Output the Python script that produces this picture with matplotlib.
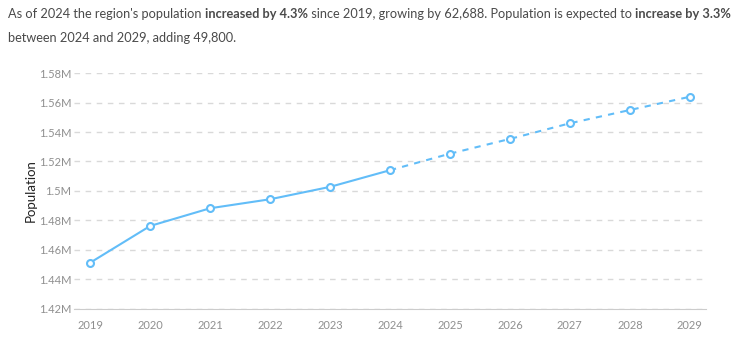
import matplotlib
matplotlib.use("Agg")
import matplotlib.pyplot as plt
from matplotlib.ticker import FuncFormatter

plt.rcParams['font.family'] = ['Lato', 'DejaVu Sans']

years = [2019, 2020, 2021, 2022, 2023, 2024, 2025, 2026, 2027, 2028, 2029]
population = [1451400, 1476300, 1488300, 1494400, 1502800, 1514088,
              1525300, 1535300, 1545900, 1554900, 1563888]
actual_n = 6  # 2019-2024 actual, 2024-2029 projected

headline = [
    ("As of 2024 the region's population ", "normal"),
    ("increased by 4.3%", "bold"),
    (" since 2019, growing by 62,688. Population is expected to ", "normal"),
    ("increase by 3.3%", "bold"),
]
headline2 = "between 2024 and 2029, adding 49,800."

blue = "#62bdf8"
grid_c = "#d9d9d9"
tick_c = "#8f8f8f"
text_c = "#4a4a4a"

fig = plt.figure(figsize=(7.5, 3.57), dpi=100)
ax = fig.add_axes([0.0987, 0.1345, 0.8426, 0.661])

ax.plot(years[:actual_n], population[:actual_n], color=blue, lw=1.5, zorder=3)
ax.plot(years[actual_n - 1:], population[actual_n - 1:], color=blue, lw=1.5,
        ls=(0, (3, 3)), zorder=3)
ax.plot(years, population, ls="none", marker="o", ms=5, mfc="white",
        mec=blue, mew=1.5, zorder=4)

ax.set_xlim(2018.73, 2029.27)
ax.set_ylim(1.42e6, 1.58e6)
ax.set_xticks(years)
ax.set_yticks([1.42e6 + i * 0.02e6 for i in range(9)])
ax.yaxis.set_major_formatter(FuncFormatter(lambda v, p: f"{v / 1e6:g}M"))
ax.tick_params(axis="both", length=0, labelsize=8, colors=tick_c)
ax.tick_params(axis="x", pad=8)
ax.tick_params(axis="y", pad=2)

ax.grid(axis="y", color=grid_c, ls=(0, (4, 4)), lw=1)
for s in ["top", "right", "left"]:
    ax.spines[s].set_visible(False)
ax.spines["bottom"].set_color("#cccccc")
ax.set_ylabel("Population", fontsize=9.5, color="#222222", labelpad=1.5)

# headline with bold pieces, placed one after another
fig.canvas.draw()
renderer = fig.canvas.get_renderer()
x = 8 / 750
for txt, w in headline:
    t = fig.text(x, 1 - 14 / 357, txt, fontsize=9.2, fontweight=w, color=text_c,
                 va="center", ha="left")
    bb = t.get_window_extent(renderer)
    x = bb.x1 / fig.bbox.width
fig.text(8 / 750, 1 - 38 / 357, headline2, fontsize=9.2, color=text_c,
         va="center", ha="left")

fig.savefig("out.png", dpi=100)
